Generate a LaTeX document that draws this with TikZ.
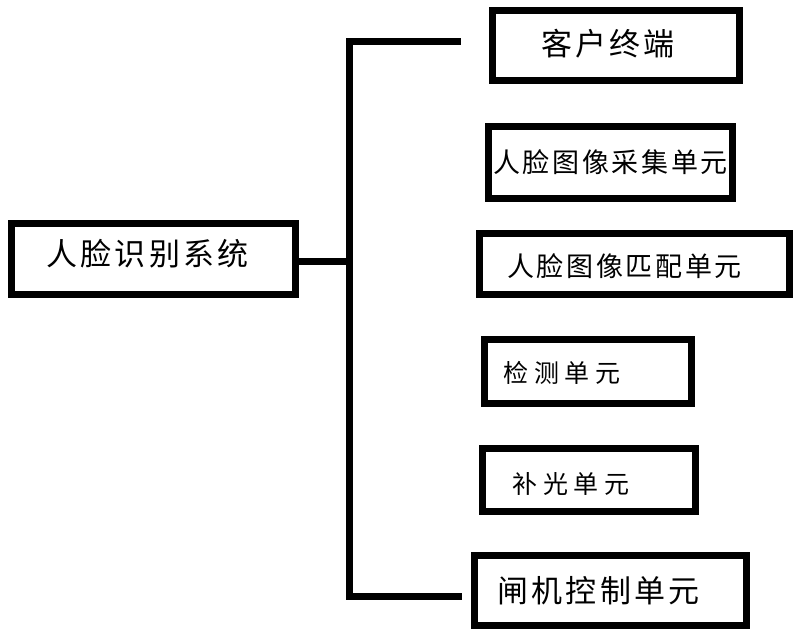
\documentclass[tikz,border=0pt]{standalone}
\usepackage{fontspec}
\newfontfamily\cjkbig[LetterSpace=10]{Noto Sans CJK SC}
\newfontfamily\cjkmid[LetterSpace=10]{Noto Sans CJK SC}
\newfontfamily\cjksmall[LetterSpace=22]{Noto Sans CJK SC}
\begin{document}
\begin{tikzpicture}[x=1pt,y=-1pt,
  box/.style={draw=black,line width=7pt,fill=white,inner sep=0pt},
  tbig/.style={font=\cjkbig\fontsize{31}{34}\selectfont},
  tmid/.style={font=\cjkmid\fontsize{27}{30}\selectfont},
  tsmall/.style={font=\cjksmall\fontsize{25}{28}\selectfont},
  link/.style={line width=7pt,line cap=rect,line join=miter}]
\useasboundingbox (0,0) rectangle (801,636);
\fill[white] (0,0) rectangle (801,636);
% boxes
\node[box,minimum width=284pt,minimum height=71pt,
  label={[tbig,xshift=-6pt,yshift=5pt]center:人脸识别系统}] (sys) at (153.5,259) {};
\node[box,minimum width=247pt,minimum height=70pt,
  label={[tbig,xshift=-8pt,yshift=1.5pt]center:客户终端}] (kh) at (616,45.5) {};
\node[box,minimum width=244pt,minimum height=72pt,
  label={[tmid]center:人脸图像采集单元}] (cj) at (610.5,162.5) {};
\node[box,minimum width=310pt,minimum height=61pt,
  label={[tmid,xshift=-10pt,yshift=-2pt]center:人脸图像匹配单元}] (pp) at (634.5,264) {};
\node[box,minimum width=207pt,minimum height=64pt,
  label={[tsmall,xshift=-26pt,yshift=-1.5pt]center:检测单元}] (jc) at (588,371.5) {};
\node[box,minimum width=213pt,minimum height=63pt,
  label={[tsmall,xshift=-18pt,yshift=-4pt]center:补光单元}] (bg) at (589,480) {};
\node[box,minimum width=272pt,minimum height=70pt,
  label={[tbig,xshift=-12pt]center:闸机控制单元}] (zj) at (610.5,590.5) {};
% connectors
\coordinate (tj) at (349,42);
\coordinate (te) at (457,42);
\coordinate (bj) at (349,596);
\coordinate (be) at (458,596);
\coordinate (mj) at (349,262);
\draw[link] (te) -- (tj) -- (bj) -- (be);
\draw[line width=7pt] (sys.east |- mj) -- (mj);
\end{tikzpicture}
\end{document}
